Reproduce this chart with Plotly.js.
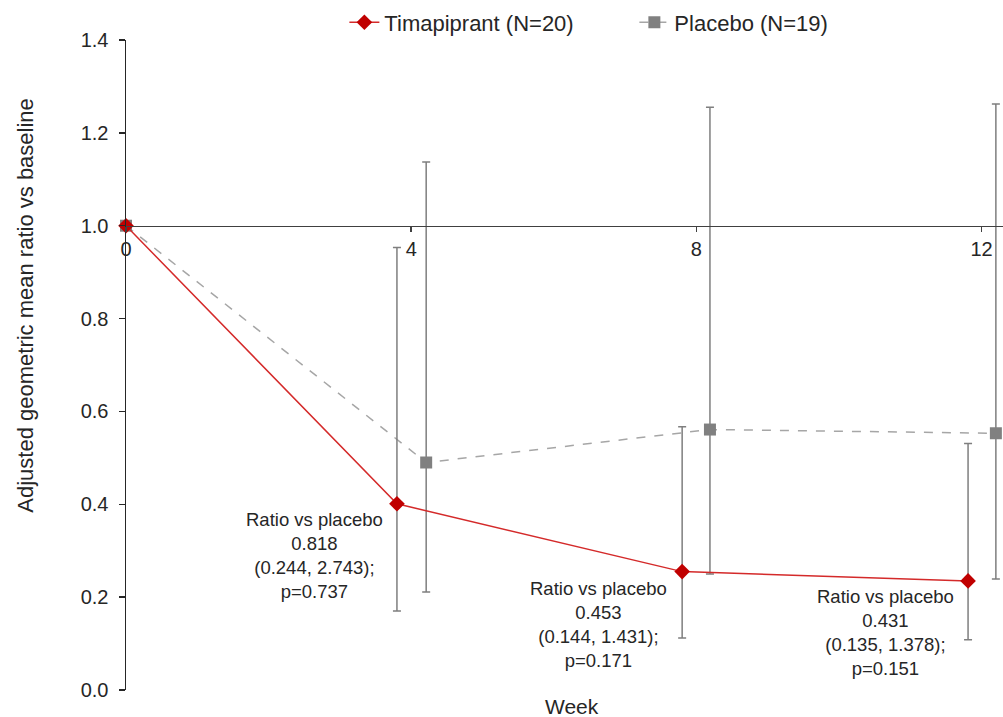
<!DOCTYPE html>
<html>
<head>
<meta charset="utf-8">
<script src="https://cdn.plot.ly/plotly-3.0.1.min.js"></script>
<style>html,body{margin:0;padding:0;background:#fff;}#chart{width:1003px;height:717px;}</style>
</head>
<body>
<div id="chart"></div>
<script>
// Data
const weekTicks = [0, 4, 8, 12];
const timX = [0, 3.80, 7.80, 11.81];
const timY = [1.0, 0.401, 0.255, 0.235];
const timUpper = [1.0, 0.953, 0.567, 0.531];
const timLower = [1.0, 0.170, 0.112, 0.108];
const plcX = [0, 4.21, 8.19, 12.2];
const plcY = [1.0, 0.490, 0.561, 0.553];
const plcUpper = [1.0, 1.137, 1.255, 1.262];
const plcLower = [1.0, 0.211, 0.250, 0.239];
const annTexts = [
  "Ratio vs placebo<br>0.818<br>(0.244, 2.743);<br>p=0.737",
  "Ratio vs placebo<br>0.453<br>(0.144, 1.431);<br>p=0.171",
  "Ratio vs placebo<br>0.431<br>(0.135, 1.378);<br>p=0.151"
];
const annX = [2.64, 6.62, 10.65];
const annY = [0.29, 0.141, 0.124];

const FONT = "Liberation Sans, Arial, sans-serif";
const up = (u, v) => u.map((x, i) => x - v[i]);
const dn = (l, v) => v.map((x, i) => x - l[i]);

const traces = [
  {
    x: plcX, y: plcY, type: 'scatter', mode: 'lines+markers',
    name: 'Placebo (N=19)',
    line: {color: '#a6a6a6', width: 1.5, dash: 'dash'},
    marker: {symbol: 'square', size: 12, color: '#808080'},
    error_y: {type: 'data', symmetric: false, array: up(plcUpper, plcY), arrayminus: dn(plcLower, plcY),
              color: '#7f7f7f', thickness: 1.5, width: 4},
    cliponaxis: false
  },
  {
    x: timX, y: timY, type: 'scatter', mode: 'lines+markers',
    name: 'Timapiprant (N=20)',
    line: {color: '#d42a2a', width: 1.5},
    marker: {symbol: 'diamond', size: 12, color: '#c00000'},
    error_y: {type: 'data', symmetric: false, array: up(timUpper, timY), arrayminus: dn(timLower, timY),
              color: '#7f7f7f', thickness: 1.5, width: 4},
    cliponaxis: false
  }
];

const annotations = annTexts.map((t, i) => ({
  x: annX[i], y: annY[i], xref: 'x', yref: 'y', text: t, showarrow: false,
  xanchor: 'center', yanchor: 'middle',
  font: {family: FONT, size: 18.5, color: '#262626'}, align: 'center'
}));
annotations.push({
  xref: 'paper', yref: 'y', x: -0.115, y: 0.828, textangle: -90,
  xanchor: 'center', yanchor: 'middle',
  text: 'Adjusted geometric mean ratio vs baseline', showarrow: false,
  font: {family: FONT, size: 22, color: '#262626'}
});
annotations.push({
  xref: 'paper', yref: 'paper', x: 0.5086, y: -0.025, xanchor: 'center', yanchor: 'middle',
  text: 'Week', showarrow: false,
  font: {family: FONT, size: 21, color: '#262626'}
});

const layout = {
  width: 1003, height: 717,
  margin: {l: 126, r: 0, t: 40, b: 27},
  paper_bgcolor: '#fff', plot_bgcolor: '#fff',
  font: {family: FONT, size: 20, color: '#262626'},
  showlegend: true,
  legend: {orientation: 'h', x: 0.249, xanchor: 'left', y: 1.027, yanchor: 'middle',
           entrywidth: 245, entrywidthmode: 'pixels', itemwidth: 30,
           font: {family: FONT, size: 22, color: '#262626'}, traceorder: 'reversed'},
  xaxis: {
    range: [0, 12.3], anchor: 'free', position: 1.0 / 1.4,
    tickvals: weekTicks, ticktext: weekTicks.map(String),
    showgrid: false, zeroline: false, showline: true, linecolor: '#404040', linewidth: 1.5,
    ticks: 'outside', ticklen: 5, tickcolor: '#404040', tickwidth: 1.5,
    tickfont: {family: FONT, size: 20, color: '#262626'}, fixedrange: true
  },
  yaxis: {
    range: [0, 1.4], dtick: 0.2, tick0: 0, tickformat: '.1f',
    showgrid: false, zeroline: false, showline: true, linecolor: '#262626', linewidth: 1.5,
    ticks: 'outside', ticklen: 6, tickcolor: '#262626', tickwidth: 1.5, ticklabelstandoff: 6,
    tickfont: {family: FONT, size: 20, color: '#262626'}, fixedrange: true
  },
  annotations: annotations
};

Plotly.newPlot('chart', traces, layout, {staticPlot: true, displayModeBar: false});
</script>
</body>
</html>
